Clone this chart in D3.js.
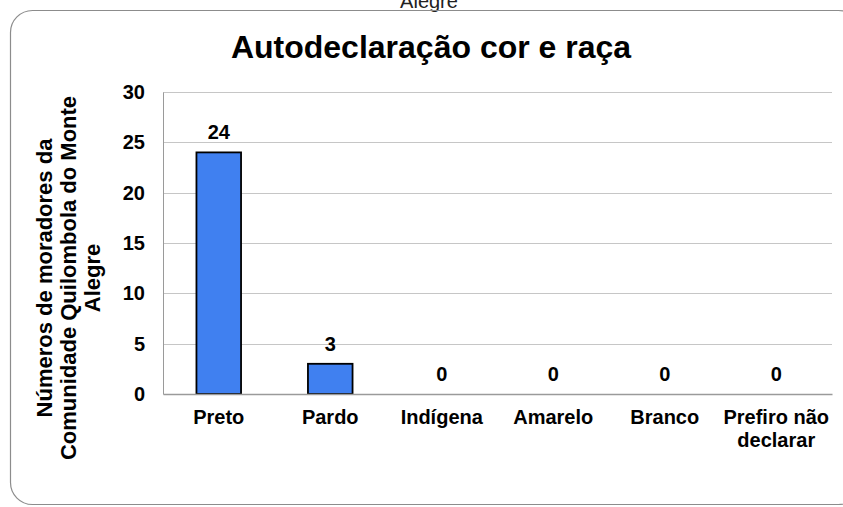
<!DOCTYPE html>
<html>
<head>
<meta charset="utf-8">
<script src="https://cdn.jsdelivr.net/npm/d3@7"></script>
<style>
  html, body { margin: 0; padding: 0; background: #fff; }
  svg { display: block; font-family: "Liberation Sans", Arial, sans-serif; }
</style>
</head>
<body>
<svg id="chart" width="843" height="507"></svg>
<script>
const categories = ['Preto', 'Pardo', 'Indígena', 'Amarelo', 'Branco', 'Prefiro não declarar']
const values = [24, 3, 0, 0, 0, 0]
const yTicks = [0, 5, 10, 15, 20, 25, 30]
const title = 'Autodeclaração cor e raça'
const yTitle = ['Números de moradores da', 'Comunidade Quilombola do Monte', 'Alegre']

const svg = d3.select('#chart')
const margin = { top: 92, right: 11, bottom: 113, left: 163 }
const W = 843, H = 507

// leftover line of the text above the chart, cut by the crop
svg.append('text')
  .attr('x', 429).attr('y', 8)
  .attr('text-anchor', 'middle')
  .style('font-size', '20px')
  .attr('fill', '#222')
  .text('Alegre')

// chart frame
svg.append('rect')
  .attr('x', 10.5).attr('y', 10.5)
  .attr('width', 850).attr('height', 494)
  .attr('rx', 22).attr('ry', 22)
  .attr('fill', 'none')
  .attr('stroke', '#8c8c8c')
  .attr('stroke-width', 1.2)

svg.append('text')
  .attr('x', 431).attr('y', 58)
  .attr('text-anchor', 'middle')
  .style('font-size', '32px')
  .style('font-weight', 'bold')
  .attr('fill', '#000')
  .text(title)

const x = d3.scaleBand()
  .domain(categories)
  .range([margin.left, W - margin.right])
  .paddingInner(0.6)
  .paddingOuter(0.3)

const y = d3.scaleLinear()
  .domain([0, 30])
  .range([H - margin.bottom, margin.top])

const g = svg.append('g')

// gridlines
g.selectAll('.grid')
  .data(yTicks.slice(1))
  .enter().append('line')
  .attr('class', 'grid')
  .attr('x1', margin.left).attr('x2', W - margin.right)
  .attr('y1', d => Math.round(y(d)) + 0.5).attr('y2', d => Math.round(y(d)) + 0.5)
  .attr('stroke', '#c6c6c6')
  .attr('stroke-width', 1)

// y axis
const yAxis = g.append('g')
  .attr('transform', `translate(${margin.left},0)`)
  .call(d3.axisLeft(y).tickValues(yTicks).tickSize(0).tickPadding(18))
yAxis.select('.domain').attr('stroke', '#9a9a9a')
yAxis.selectAll('text')
  .style('font-size', '20px')
  .style('font-weight', 'bold')
  .style('font-family', '"Liberation Sans", Arial, sans-serif')
  .attr('fill', '#000')

// bars
g.selectAll('.bar')
  .data(values)
  .enter().append('rect')
  .attr('class', 'bar')
  .attr('x', (d, i) => x(categories[i]))
  .attr('width', x.bandwidth())
  .attr('y', d => y(d))
  .attr('height', d => y(0) - y(d))
  .attr('fill', '#4080f0')
  .attr('stroke', d => d > 0 ? '#000' : 'none')
  .attr('stroke-width', 1.8)

// x axis
const xAxis = g.append('g')
  .attr('transform', `translate(0,${y(0)})`)
  .call(d3.axisBottom(x).tickSize(0).tickFormat(''))
xAxis.select('.domain').attr('stroke', '#9a9a9a').attr('stroke-width', 1.3)

// category labels
const catLabels = g.selectAll('.cat')
  .data(categories)
  .enter().append('text')
  .attr('class', 'cat')
  .attr('text-anchor', 'middle')
  .attr('x', d => x(d) + x.bandwidth() / 2)
  .attr('y', y(0) + 30)
  .style('font-size', '20px')
  .style('font-weight', 'bold')
  .attr('fill', '#000')
catLabels.each(function(d) {
  const el = d3.select(this)
  const words = d === 'Prefiro não declarar' ? ['Prefiro não', 'declarar'] : [d]
  words.forEach((w, k) => {
    el.append('tspan')
      .attr('x', el.attr('x'))
      .attr('dy', k === 0 ? 0 : 23)
      .text(w)
  })
})

// value labels
g.selectAll('.val')
  .data(values)
  .enter().append('text')
  .attr('class', 'val')
  .attr('text-anchor', 'middle')
  .attr('x', (d, i) => x(categories[i]) + x.bandwidth() / 2)
  .attr('y', d => y(d) - 13)
  .style('font-size', '20px')
  .style('font-weight', 'bold')
  .attr('fill', '#000')
  .text(d => d)

// y axis title
const yt = svg.append('text')
  .attr('transform', 'translate(69,278) rotate(-90)')
  .attr('text-anchor', 'middle')
  .style('font-size', '22px')
  .style('font-weight', 'bold')
  .attr('fill', '#000')
yTitle.forEach((line, k) => {
  yt.append('tspan')
    .attr('x', 0)
    .attr('y', (k - 1) * 24 + 7)
    .text(line)
})
</script>
</body>
</html>
